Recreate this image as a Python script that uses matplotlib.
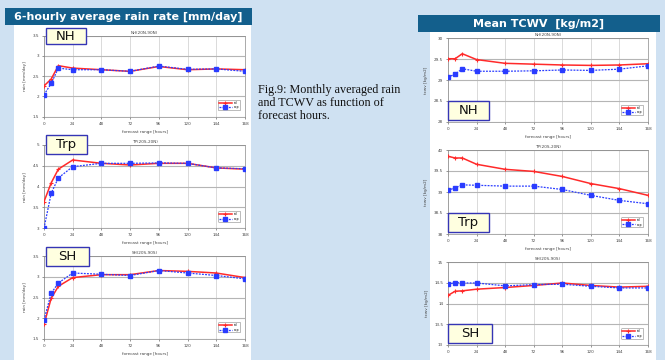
import matplotlib
matplotlib.use("Agg")
import matplotlib.pyplot as plt
from matplotlib.patches import Rectangle

W, H = 665, 360

# forecast hours
hours = [0, 6, 12, 24, 48, 72, 96, 120, 144, 168]
xticks = [0, 24, 48, 72, 96, 120, 144, 168]

# rain rate [mm/day], red = control, blue = experiment
rain_nh_red = [2.26, 2.43, 2.76, 2.70, 2.66, 2.62, 2.74, 2.66, 2.68, 2.66]
rain_nh_blue = [2.04, 2.32, 2.70, 2.66, 2.66, 2.62, 2.75, 2.67, 2.68, 2.62]
rain_trp_red = [3.64, 4.09, 4.42, 4.64, 4.56, 4.52, 4.56, 4.56, 4.45, 4.42]
rain_trp_blue = [3.00, 3.84, 4.21, 4.48, 4.56, 4.56, 4.57, 4.56, 4.45, 4.43]
rain_sh_red = [1.85, 2.48, 2.77, 2.98, 3.05, 3.05, 3.15, 3.13, 3.09, 2.98]
rain_sh_blue = [1.96, 2.60, 2.85, 3.09, 3.06, 3.03, 3.15, 3.09, 3.03, 2.95]

# total column water vapour [kg/m2]
tcwv_nh_red = [29.51, 29.51, 29.63, 29.49, 29.40, 29.38, 29.36, 29.35, 29.36, 29.39]
tcwv_nh_blue = [29.07, 29.14, 29.27, 29.21, 29.21, 29.22, 29.24, 29.23, 29.26, 29.34]
tcwv_trp_red = [39.85, 39.81, 39.81, 39.66, 39.54, 39.49, 39.37, 39.20, 39.08, 38.92]
tcwv_trp_blue = [39.04, 39.10, 39.17, 39.16, 39.14, 39.14, 39.06, 38.92, 38.80, 38.72]
tcwv_sh_red = [14.20, 14.30, 14.31, 14.35, 14.39, 14.44, 14.50, 14.44, 14.40, 14.42]
tcwv_sh_blue = [14.47, 14.51, 14.50, 14.50, 14.43, 14.46, 14.47, 14.42, 14.38, 14.38]

rain_nh_ticks = [1.5, 2, 2.5, 3, 3.5]
rain_trp_ticks = [3, 3.5, 4, 4.5, 5]
rain_sh_ticks = [1.5, 2, 2.5, 3, 3.5]
tcwv_nh_ticks = [28, 28.5, 29, 29.5, 30]
tcwv_trp_ticks = [38, 38.5, 39, 39.5, 40]
tcwv_sh_ticks = [13, 13.5, 14, 14.5, 15]

BG = "#cfe1f2"
HEAD = "#135f8c"
RED = "#ff2a2a"
BLUE = "#2a3cff"

fig = plt.figure(figsize=(W / 100, H / 100), dpi=100)
fig.patch.set_facecolor(BG)


def px_rect(x0, y0, x1, y1, **kw):
    r = Rectangle((x0 / W, 1 - y1 / H), (x1 - x0) / W, (y1 - y0) / H,
                  transform=fig.transFigure, **kw)
    fig.add_artist(r)
    return r


def px_axes(x0, y0, x1, y1):
    return fig.add_axes([x0 / W, 1 - y1 / H, (x1 - x0) / W, (y1 - y0) / H])


def fmt(v):
    return ("%g" % v)


def panel(box, red, blue, yticks, title, ylabel, region, label_box, xlabel=True):
    ax = px_axes(*box)
    ax.set_facecolor("white")
    ax.plot(hours, red, color=RED, lw=1.1, marker="+", ms=2.5, mew=0.8, label="ctl", zorder=3)
    ax.plot(hours, blue, color=BLUE, lw=0.9, ls=(0, (1.5, 1)), marker="s", ms=2.2,
            label="exp", zorder=3)
    ax.set_xlim(0, 168)
    ax.set_ylim(yticks[0], yticks[-1])
    ax.set_xticks(xticks)
    ax.set_yticks(yticks)
    ax.set_xticklabels([str(t) for t in xticks])
    ax.set_yticklabels([fmt(t) for t in yticks])
    ax.tick_params(labelsize=3, length=1.5, width=0.4, pad=2, colors="#444444")
    ax.grid(True, axis="y", color="#b5b5b5", lw=0.8)
    ax.grid(True, axis="x", color="#d5d5d5", lw=0.6)
    for s in ax.spines.values():
        s.set_color("#888888")
        s.set_linewidth(0.5)
    ax.set_title(region, fontsize=3, pad=1.5, color="#444444")
    ax.set_ylabel(ylabel, fontsize=3, labelpad=4, color="#444444")
    if xlabel:
        ax.set_xlabel("forecast range [hours]", fontsize=3, labelpad=3, color="#444444")
    leg = ax.legend(loc="lower right", fontsize=2.2, ncol=1, handlelength=4,
                    frameon=True, borderpad=0.3, labelspacing=0.2,
                    bbox_to_anchor=(0.985, 0.06))
    leg.get_frame().set_linewidth(0.5)
    leg.get_frame().set_edgecolor("#888888")
    # region label box
    bx0, by0, bx1, by1 = label_box
    px_rect(bx0, by0, bx1, by1, facecolor="#ffffe0", edgecolor="#3535b5", lw=1.0, zorder=10)
    fig.text((bx0 + bx1) / 2 / W, 1 - (by0 + by1) / 2 / H, title, ha="center",
             va="center", fontsize=9.5, zorder=11, color="#111111")
    return ax


# white backgrounds for the chart columns
px_rect(14, 25, 251, 360, facecolor="white", edgecolor="none", zorder=-5)
px_rect(430, 32, 656, 360, facecolor="white", edgecolor="none", zorder=-5)

# headers
px_rect(5, 8, 252, 25, facecolor=HEAD, edgecolor="none", zorder=-4)
fig.text(128 / W, 1 - 16.5 / H, "6-hourly average rain rate [mm/day]", ha="center",
         va="center", color="white", fontsize=8, fontweight="bold")
px_rect(418, 15, 660, 32, facecolor=HEAD, edgecolor="none", zorder=-4)
fig.text(539 / W, 1 - 23.5 / H, "Mean TCWV  [kg/m2]", ha="center",
         va="center", color="white", fontsize=8, fontweight="bold")

# rain column
panel((44, 35.7, 245, 116.7), rain_nh_red, rain_nh_blue, rain_nh_ticks,
      "NH", "rain [mm/day]", "NH(20N-90N)", (46, 28, 86, 44))
panel((44, 145, 245, 228.3), rain_trp_red, rain_trp_blue, rain_trp_ticks,
      "Trp", "rain [mm/day]", "TP(20S-20N)", (46, 135, 87, 154))
panel((44, 256, 245, 339), rain_sh_red, rain_sh_blue, rain_sh_ticks,
      "SH", "rain [mm/day]", "SH(20S-90S)", (46, 247, 89, 266))

# tcwv column
panel((448, 38.3, 648, 121.7), tcwv_nh_red, tcwv_nh_blue, tcwv_nh_ticks,
      "NH", "tcwv [kg/m2]", "NH(20N-90N)", (448, 101, 489, 120))
panel((448, 150, 648, 234), tcwv_trp_red, tcwv_trp_blue, tcwv_trp_ticks,
      "Trp", "tcwv [kg/m2]", "TP(20S-20N)", (448, 213, 489, 232))
panel((448, 262.3, 648, 345), tcwv_sh_red, tcwv_sh_blue, tcwv_sh_ticks,
      "SH", "tcwv [kg/m2]", "SH(20S-90S)", (448, 324, 492, 343), xlabel=False)

# caption
fig.text(258 / W, 1 - 84 / H,
         "Fig.9: Monthly averaged rain\nand TCWV as function of\nforecast hours.",
         ha="left", va="top", fontsize=8.7, family="Liberation Serif",
         linespacing=1.1, color="#111111")

fig.savefig("out.png", dpi=100, facecolor=BG)
